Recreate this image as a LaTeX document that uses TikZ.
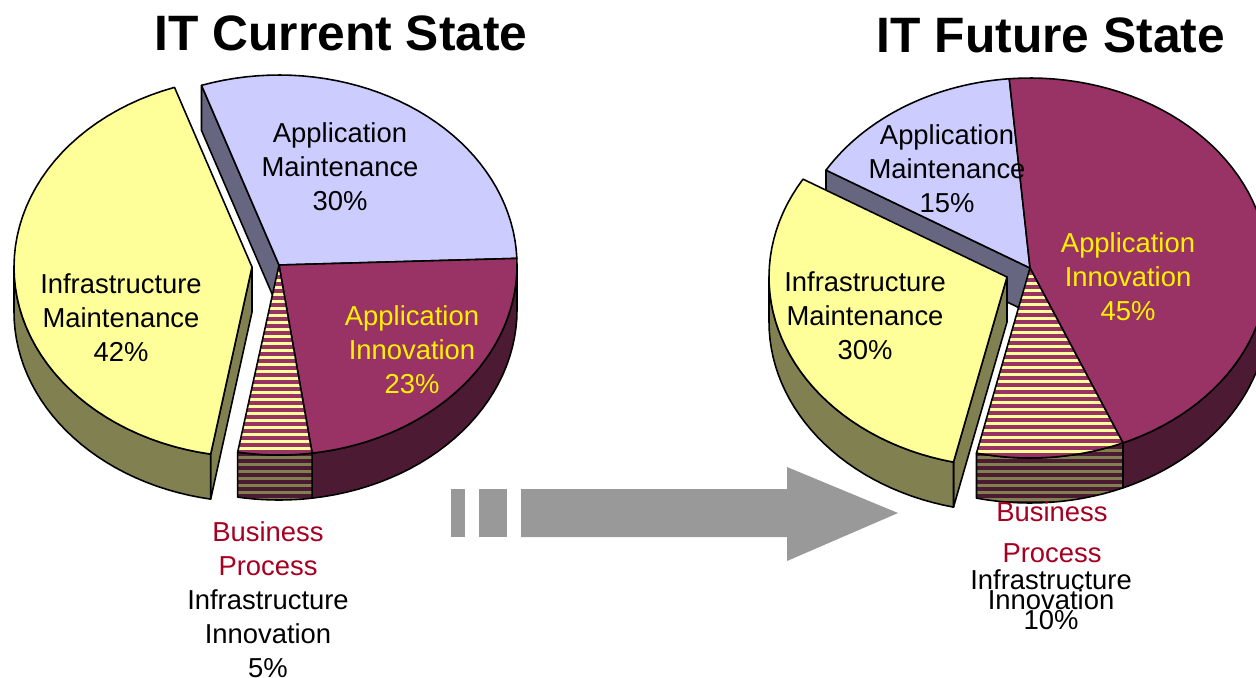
\documentclass[tikz,border=0pt]{standalone}
\usepackage{fontspec}
\setmainfont{Liberation Sans}
\usetikzlibrary{positioning}

\definecolor{infratop}{HTML}{FFFF99}
\definecolor{infraside}{HTML}{808050}
\definecolor{mainttop}{HTML}{CCCCFF}
\definecolor{maintside}{HTML}{666680}
\definecolor{innovtop}{HTML}{993366}
\definecolor{innovside}{HTML}{4D1A33}
\definecolor{bizred}{RGB}{165,0,33}
\definecolor{arrowgray}{HTML}{999999}

\begin{document}
\begin{tikzpicture}[x=0.02cm,y=-0.02cm,
    outline/.style={draw=black,line width=0.9pt,line join=round},
    lbl/.style={font=\fontsize{15.6}{19.3}\selectfont,align=center,inner sep=0pt},
    ttl/.style={font=\fontsize{28.3}{34}\selectfont\bfseries,inner sep=0pt}]
  \useasboundingbox (0,0) rectangle (1256,677);
  \clip (0,0) rectangle (1256,677);

  % titles
  \node[ttl] (curtitle) at (341,33) {IT Current State};
  \node[ttl] (futtitle) at (1051,35) {IT Future State};

  % current state pie
  \filldraw[outline,fill=maintside] (279,265) -- (201.5,85.4) -- (201.5,130.4) -- (279,310) -- cycle;
  \filldraw[outline,fill=mainttop] (279,265) -- plot[domain=2:109,samples=40] ({279+238*cos(\x)},{265-190*sin(\x)}) -- cycle;
  \filldraw[outline,fill=innovside] plot[domain=278:360,samples=30] ({279+238*cos(\x)},{265-190*sin(\x)})
    -- plot[domain=360:278,samples=30] ({279+238*cos(\x)},{310-190*sin(\x)}) -- cycle;
  \filldraw[outline,fill=innovtop] (279,265) -- plot[domain=278:362,samples=40] ({279+238*cos(\x)},{265-190*sin(\x)}) -- cycle;
  \begin{scope}
    \clip plot[domain=260:278,samples=10] ({279+238*cos(\x)},{265-190*sin(\x)})
      -- plot[domain=278:260,samples=10] ({279+238*cos(\x)},{310-190*sin(\x)}) -- cycle;
    \fill[infraside] (230,430) rectangle (330,510);
    \foreach \s in {445,452,...,505} \fill[innovside] (230,\s) rectangle (330,\s+3.5);
  \end{scope}
  \draw[outline] plot[domain=260:278,samples=10] ({279+238*cos(\x)},{265-190*sin(\x)})
    -- plot[domain=278:260,samples=10] ({279+238*cos(\x)},{310-190*sin(\x)}) -- cycle;
  \begin{scope}
    \clip (279,265) -- plot[domain=260:278,samples=10] ({279+238*cos(\x)},{265-190*sin(\x)}) -- cycle;
    \fill[infratop] (230,260) rectangle (330,460);
    \foreach \s in {268,275,...,460} \fill[innovtop] (230,\s) rectangle (330,\s+3.5);
  \end{scope}
  \draw[outline] (279,265) -- plot[domain=260:278,samples=10] ({279+238*cos(\x)},{265-190*sin(\x)}) -- cycle;
  \filldraw[outline,fill=infraside] (252,267) -- (210.7,454.1) -- (210.7,499.1) -- (252,312) -- cycle;
  \filldraw[outline,fill=infraside] plot[domain=180:260,samples=30] ({252+238*cos(\x)},{267-190*sin(\x)})
    -- plot[domain=260:180,samples=30] ({252+238*cos(\x)},{312-190*sin(\x)}) -- cycle;
  \filldraw[outline,fill=infratop] (252,267) -- plot[domain=109:260,samples=50] ({252+238*cos(\x)},{267-190*sin(\x)}) -- cycle;

  % future state pie
  \filldraw[outline,fill=maintside] (1030,268) -- (826,170.1) -- (826,215.1) -- (1030,313) -- cycle;
  \filldraw[outline,fill=mainttop] (1030,268) -- plot[domain=95:149,samples=30] ({1030+238*cos(\x)},{268-190*sin(\x)}) -- cycle;
  \filldraw[outline,fill=innovside] plot[domain=293:360,samples=30] ({1030+238*cos(\x)},{268-190*sin(\x)})
    -- plot[domain=360:293,samples=30] ({1030+238*cos(\x)},{313-190*sin(\x)}) -- cycle;
  \filldraw[outline,fill=innovtop] (1030,268) -- plot[domain=-67:95,samples=60] ({1030+238*cos(\x)},{268-190*sin(\x)}) -- cycle;
  \begin{scope}
    \clip plot[domain=257:293,samples=15] ({1030+238*cos(\x)},{268-190*sin(\x)})
      -- plot[domain=293:257,samples=15] ({1030+238*cos(\x)},{313-190*sin(\x)}) -- cycle;
    \fill[infraside] (960,420) rectangle (1140,510);
    \foreach \s in {438,445,...,510} \fill[innovside] (960,\s) rectangle (1140,\s+3.5);
  \end{scope}
  \draw[outline] plot[domain=257:293,samples=15] ({1030+238*cos(\x)},{268-190*sin(\x)})
    -- plot[domain=293:257,samples=15] ({1030+238*cos(\x)},{313-190*sin(\x)}) -- cycle;
  \begin{scope}
    \clip (1030,268) -- plot[domain=257:293,samples=15] ({1030+238*cos(\x)},{268-190*sin(\x)}) -- cycle;
    \fill[infratop] (960,260) rectangle (1140,465);
    \foreach \s in {271,278,...,465} \fill[innovtop] (960,\s) rectangle (1140,\s+3.5);
  \end{scope}
  \draw[outline] (1030,268) -- plot[domain=257:293,samples=15] ({1030+238*cos(\x)},{268-190*sin(\x)}) -- cycle;
  \filldraw[outline,fill=infraside] (1007,277) -- (953.5,462.1) -- (953.5,507.1) -- (1007,322) -- cycle;
  \filldraw[outline,fill=infraside] plot[domain=180:257,samples=30] ({1007+238*cos(\x)},{277-190*sin(\x)})
    -- plot[domain=257:180,samples=30] ({1007+238*cos(\x)},{322-190*sin(\x)}) -- cycle;
  \filldraw[outline,fill=infratop] (1007,277) -- plot[domain=149:257,samples=40] ({1007+238*cos(\x)},{277-190*sin(\x)}) -- cycle;

  % arrow
  \fill[arrowgray] (451,489) rectangle (465,537);
  \fill[arrowgray] (479,489) rectangle (507,537);
  \fill[arrowgray] (521,489) -- (787,489) -- (787,467) -- (898,513) -- (787,561) -- (787,537) -- (521,537) -- cycle;

  % labels, current
  \node[lbl] (curam) at (340,167) {Application\\Maintenance\\30\%};
  \node[lbl] (curim) at (121,318) {Infrastructure\\Maintenance\\42\%};
  \node[lbl,text=yellow] (curai) at (412,350) {Application\\Innovation\\23\%};
  \node[lbl,text=bizred] (curbp) at (268,549) {Business\\Process};
  \node[lbl] (curii) at (268,634) {Infrastructure\\Innovation\\5\%};

  % labels, future
  \node[lbl] (futam) at (947,169) {Application\\Maintenance\\15\%};
  \node[lbl] (futim) at (865,316) {Infrastructure\\Maintenance\\30\%};
  \node[lbl,text=yellow] (futai) at (1128,277) {Application\\Innovation\\45\%};
  \node[lbl,text=bizred] (futbus) at (1052,512) {Business};
  \node[lbl,text=bizred] (futproc) at (1052,553) {Process};
  \node[lbl] (futinf) at (1051,580) {Infrastructure};
  \node[lbl] (futinn) at (1051,600) {Innovation};
  \node[lbl] (futpct) at (1051,620) {10\%};
\end{tikzpicture}
\end{document}
